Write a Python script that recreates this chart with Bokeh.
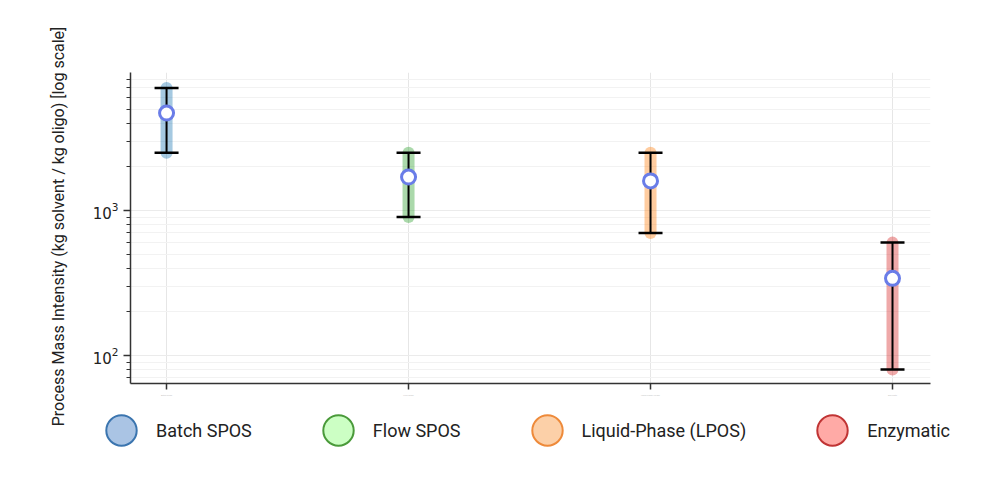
import math
from bokeh.plotting import figure
from bokeh.layouts import column, row
from bokeh.models import (Legend, LegendItem, FixedTicker, ColumnDataSource,
                          Range1d)
from bokeh.core.properties import value
from bokeh.embed import file_html
from bokeh.resources import INLINE

methods = ["Batch SPOS", "Flow SPOS", "Liquid-Phase (LPOS)", "Enzymatic"]
pmi_mid = [4700, 1700, 1600, 340]
pmi_low = [2500, 900, 700, 80]
pmi_high = [7000, 2500, 2500, 600]
y_title = "Process Mass Intensity (kg solvent / kg oligo) [log scale]"

band_colors = ["#1f77b4", "#2ca02c", "#ff7f0e", "#d62728"]
legend_fill = ["#aac4e4", "#ccffc4", "#fcd0a8", "#ffaaa6"]
legend_line = ["#3b75af", "#4a9a3a", "#ee8a3a", "#c03434"]

xs = list(range(len(methods)))

# ---- y-axis title strip (full height so the long title is not clipped)
tf = figure(width=75, height=477, x_range=Range1d(0, 75), y_range=Range1d(0, 477),
            output_backend="svg", toolbar_location=None,
            x_axis_location=None, y_axis_location=None,
            min_border_left=0, min_border_right=0, min_border_top=0,
            min_border_bottom=0)
tf.frame_align = False
tf.outline_line_color = None
tf.xgrid.visible = False
tf.ygrid.visible = False
tf.text(x=[58], y=[251], text=[y_title], angle=math.pi / 2,
        text_align="center", text_baseline="middle",
        text_font=value("Roboto"), text_font_size="16px", text_color="#222222")

# ---- main chart
p = figure(width=915, height=400, y_axis_type="log",
           x_range=Range1d(-0.149, 3.157), y_range=Range1d(64, 8950),
           output_backend="svg", toolbar_location=None,
           min_border_left=55, min_border_right=60, min_border_top=72,
           min_border_bottom=17)
p.frame_align = False
p.outline_line_color = None

src = ColumnDataSource(dict(x=xs, mid=pmi_mid, low=pmi_low, high=pmi_high,
                            color=band_colors, name=methods))

# light range band
p.segment(x0="x", y0="low", x1="x", y1="high", source=src,
          line_color="color", line_alpha=0.4, line_width=12, line_cap="round")
# error bars
p.segment(x0="x", y0="low", x1="x", y1="high", source=src,
          line_color="black", line_width=2)
p.scatter(x="x", y="low", source=src, marker="dash", size=24,
          line_color="black", line_width=2.5)
p.scatter(x="x", y="high", source=src, marker="dash", size=24,
          line_color="black", line_width=2.5)
# mean markers
p.scatter(x="x", y="mid", source=src, marker="circle", size=14,
          fill_color="white", line_color="#6a7de8", line_width=3)

p.xaxis.ticker = FixedTicker(ticks=xs)
p.xaxis.major_label_overrides = {i: m for i, m in enumerate(methods)}
p.xaxis.major_label_text_font_size = "2px"
p.xaxis.major_label_text_color = "#bbbbbb"
p.xaxis.minor_tick_line_color = None
p.xaxis.major_tick_in = 0
p.xaxis.major_tick_out = 6

for ax in [p.xaxis, p.yaxis]:
    ax.axis_line_color = "#333333"
    ax.axis_line_width = 1.5
    ax.major_tick_line_color = "#333333"
    ax.major_tick_line_width = 1.5

p.yaxis.major_label_text_font = "DejaVu Sans"
p.yaxis.major_label_text_font_size = "15px"
p.yaxis.major_label_text_color = "#222222"
p.yaxis.major_tick_in = 0
p.yaxis.major_tick_out = 7
p.yaxis.minor_tick_in = 0
p.yaxis.minor_tick_out = 4
p.yaxis.minor_tick_line_color = "#333333"

p.xgrid.grid_line_color = "#e6e6e6"
p.ygrid.grid_line_color = "#ebebeb"
p.ygrid.minor_grid_line_color = "#f2f2f2"

# ---- legend strip below the chart
lg = figure(width=915, height=77, x_range=Range1d(0, 1), y_range=Range1d(0, 1),
            output_backend="svg", toolbar_location=None,
            x_axis_location=None, y_axis_location=None,
            min_border_left=0, min_border_right=0, min_border_top=0,
            min_border_bottom=0)
lg.frame_align = False
lg.outline_line_color = None
lg.xgrid.visible = False
lg.ygrid.visible = False

items = []
for i, m in enumerate(methods):
    r = lg.ellipse(x=[0], y=[float("nan")], width=30, height=30,
                   width_units="screen", height_units="screen",
                   fill_color=legend_fill[i], line_color=legend_line[i],
                   line_width=2)
    items.append(LegendItem(label=m, renderers=[r]))

legend = Legend(items=items, orientation="horizontal", location=(27, 28),
                glyph_width=38, glyph_height=38, label_standoff=16,
                spacing=67, label_text_font="Roboto",
                label_text_font_size="18px", label_text_color="#222222",
                border_line_color=None, background_fill_alpha=0,
                padding=0, margin=0)
lg.add_layout(legend, "center")

layout = row(tf, column(p, lg, spacing=0), spacing=0)
open("out.html", "w").write(file_html(layout, INLINE))
